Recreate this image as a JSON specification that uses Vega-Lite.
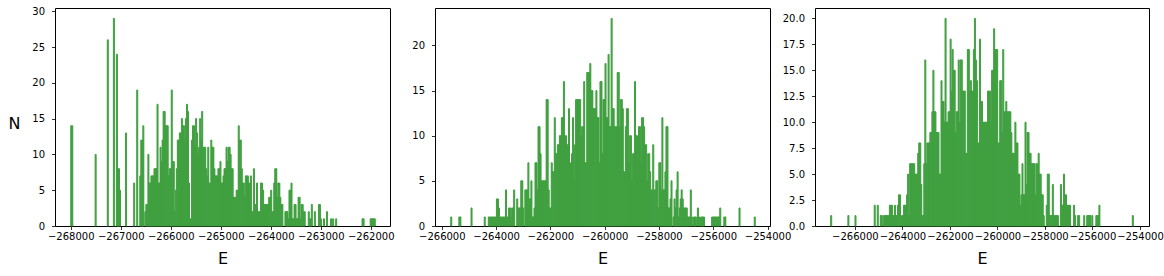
{
"$schema": "https://vega.github.io/schema/vega-lite/v6.json",
"padding": {"left": 7, "top": 5, "right": 0, "bottom": 0},
"background": "white",
"spacing": 45,
"bounds": "flush",
"config": {
  "view": {"stroke": "#000", "strokeWidth": 1},
  "font": "DejaVu Sans",
  "bar": {"color": "#40a040", "stroke": "#40a040", "strokeWidth": 1, "binSpacing": 0},
  "axis": {"labelFont": "DejaVu Sans", "labelFontSize": 10, "labelColor": "#000", "tickColor": "#000", "tickSize": 3.5, "tickWidth": 0.8, "domain": false, "grid": false, "titleFont": "DejaVu Sans", "titleFontSize": 16, "titleFontWeight": "normal", "titleColor": "#000", "labelOverlap": false, "labelFlush": false, "labelBound": false},
  "axisX": {"labelPadding": 1.6, "titleY": 37, "titleBaseline": "alphabetic"},
  "axisY": {"labelPadding": 7}
},
"hconcat": [
{
 "width": 335, "height": 218,
 "data": {"values": [
{"E":-268000,"N":14},{"E":-267980,"N":14},{"E":-267513,"N":10},{"E":-267269,"N":26},{"E":-267147,"N":29},{"E":-267087,"N":24},{"E":-267066,"N":8},{"E":-267046,"N":8},{"E":-267026,"N":5},{"E":-266904,"N":13},{"E":-266741,"N":6},{"E":-266680,"N":19},{"E":-266620,"N":7},{"E":-266599,"N":12},{"E":-266579,"N":12},{"E":-266559,"N":14},{"E":-266518,"N":2},{"E":-266498,"N":3},{"E":-266477,"N":3},{"E":-266457,"N":10},{"E":-266437,"N":6},{"E":-266417,"N":6},{"E":-266396,"N":7},{"E":-266376,"N":7},{"E":-266356,"N":7},{"E":-266335,"N":8},{"E":-266315,"N":8},{"E":-266295,"N":8},{"E":-266274,"N":17},{"E":-266254,"N":6},{"E":-266234,"N":6},{"E":-266214,"N":11},{"E":-266193,"N":9},{"E":-266173,"N":12},{"E":-266153,"N":16},{"E":-266132,"N":16},{"E":-266112,"N":14},{"E":-266092,"N":14},{"E":-266071,"N":14},{"E":-266051,"N":7},{"E":-266031,"N":8},{"E":-266011,"N":8},{"E":-265990,"N":19},{"E":-265970,"N":9},{"E":-265950,"N":9},{"E":-265929,"N":2},{"E":-265909,"N":5},{"E":-265889,"N":8},{"E":-265868,"N":12},{"E":-265848,"N":12},{"E":-265828,"N":13},{"E":-265808,"N":13},{"E":-265787,"N":15},{"E":-265767,"N":14},{"E":-265747,"N":14},{"E":-265726,"N":12},{"E":-265706,"N":15},{"E":-265686,"N":17},{"E":-265665,"N":16},{"E":-265645,"N":6},{"E":-265625,"N":1},{"E":-265605,"N":1},{"E":-265584,"N":12},{"E":-265564,"N":14},{"E":-265544,"N":14},{"E":-265523,"N":11},{"E":-265503,"N":15},{"E":-265483,"N":13},{"E":-265462,"N":10},{"E":-265442,"N":11},{"E":-265422,"N":15},{"E":-265402,"N":12},{"E":-265381,"N":16},{"E":-265361,"N":11},{"E":-265341,"N":11},{"E":-265320,"N":11},{"E":-265300,"N":8},{"E":-265280,"N":7},{"E":-265259,"N":11},{"E":-265239,"N":6},{"E":-265219,"N":6},{"E":-265199,"N":12},{"E":-265178,"N":11},{"E":-265158,"N":11},{"E":-265138,"N":8},{"E":-265117,"N":7},{"E":-265097,"N":7},{"E":-265077,"N":7},{"E":-265056,"N":8},{"E":-265036,"N":8},{"E":-265016,"N":9},{"E":-264996,"N":6},{"E":-264975,"N":6},{"E":-264955,"N":7},{"E":-264935,"N":8},{"E":-264914,"N":8},{"E":-264894,"N":11},{"E":-264874,"N":9},{"E":-264853,"N":11},{"E":-264833,"N":11},{"E":-264813,"N":10},{"E":-264793,"N":8},{"E":-264772,"N":8},{"E":-264752,"N":4},{"E":-264732,"N":4},{"E":-264711,"N":4},{"E":-264691,"N":5},{"E":-264671,"N":5},{"E":-264650,"N":14},{"E":-264630,"N":12},{"E":-264610,"N":12},{"E":-264590,"N":8},{"E":-264569,"N":6},{"E":-264549,"N":6},{"E":-264529,"N":4},{"E":-264508,"N":7},{"E":-264488,"N":7},{"E":-264468,"N":7},{"E":-264447,"N":6},{"E":-264427,"N":6},{"E":-264407,"N":7},{"E":-264387,"N":2},{"E":-264366,"N":2},{"E":-264346,"N":8},{"E":-264326,"N":3},{"E":-264305,"N":3},{"E":-264285,"N":6},{"E":-264265,"N":2},{"E":-264244,"N":2},{"E":-264224,"N":2},{"E":-264204,"N":6},{"E":-264184,"N":6},{"E":-264163,"N":5},{"E":-264143,"N":3},{"E":-264123,"N":3},{"E":-264102,"N":3},{"E":-264082,"N":3},{"E":-264062,"N":3},{"E":-264041,"N":4},{"E":-264021,"N":4},{"E":-264001,"N":5},{"E":-263981,"N":2},{"E":-263960,"N":2},{"E":-263940,"N":6},{"E":-263920,"N":8},{"E":-263899,"N":8},{"E":-263879,"N":4},{"E":-263859,"N":6},{"E":-263838,"N":6},{"E":-263818,"N":4},{"E":-263798,"N":3},{"E":-263778,"N":3},{"E":-263717,"N":2},{"E":-263696,"N":2},{"E":-263676,"N":2},{"E":-263656,"N":1},{"E":-263635,"N":5},{"E":-263615,"N":5},{"E":-263595,"N":6},{"E":-263575,"N":1},{"E":-263554,"N":1},{"E":-263534,"N":3},{"E":-263514,"N":3},{"E":-263493,"N":1},{"E":-263473,"N":1},{"E":-263453,"N":4},{"E":-263432,"N":4},{"E":-263412,"N":1},{"E":-263392,"N":3},{"E":-263372,"N":3},{"E":-263351,"N":2},{"E":-263331,"N":2},{"E":-263250,"N":2},{"E":-263229,"N":1},{"E":-263209,"N":1},{"E":-263189,"N":3},{"E":-263128,"N":2},{"E":-263047,"N":3},{"E":-263026,"N":3},{"E":-263006,"N":1},{"E":-262945,"N":1},{"E":-262884,"N":2},{"E":-262803,"N":1},{"E":-262763,"N":1},{"E":-262702,"N":1},{"E":-262174,"N":1},{"E":-262154,"N":1},{"E":-262011,"N":1},{"E":-261991,"N":1},{"E":-261971,"N":1},{"E":-261951,"N":1},{"E":-261930,"N":1}
 ]},
 "mark": {"type": "bar"},
 "encoding": {
  "x": {"field": "E", "type": "quantitative", "bin": {"extent": [-268010, -261920], "step": 20.3, "nice": false},
        "scale": {"domain": [-268315, -261615], "nice": false, "zero": false},
        "axis": {"title": "E", "format": "d", "values": [-268000, -267000, -266000, -265000, -264000, -263000, -262000]}},
  "y": {"field": "N", "type": "quantitative", "scale": {"domain": [0, 30.45], "nice": false},
        "axis": {"title": "N", "format": "d", "values": [0, 5, 10, 15, 20, 25, 30], "titleAngle": 0, "titleX": -41, "titleY": 115, "titleAlign": "center", "titleBaseline": "middle"}}
 }
},
{
 "width": 335, "height": 218,
 "data": {"values": [
{"E":-265671,"N":1},{"E":-265372,"N":1},{"E":-265335,"N":1},{"E":-264923,"N":2},{"E":-264437,"N":1},{"E":-264288,"N":1},{"E":-264250,"N":1},{"E":-264213,"N":1},{"E":-264175,"N":1},{"E":-264138,"N":1},{"E":-264101,"N":1},{"E":-264063,"N":1},{"E":-264026,"N":1},{"E":-263988,"N":3},{"E":-263951,"N":3},{"E":-263914,"N":2},{"E":-263876,"N":1},{"E":-263839,"N":1},{"E":-263801,"N":1},{"E":-263764,"N":1},{"E":-263727,"N":1},{"E":-263689,"N":1},{"E":-263652,"N":4},{"E":-263614,"N":1},{"E":-263577,"N":1},{"E":-263540,"N":2},{"E":-263502,"N":2},{"E":-263465,"N":1},{"E":-263427,"N":2},{"E":-263390,"N":2},{"E":-263353,"N":4},{"E":-263240,"N":3},{"E":-263203,"N":2},{"E":-263166,"N":2},{"E":-263128,"N":2},{"E":-263091,"N":5},{"E":-263053,"N":5},{"E":-263016,"N":2},{"E":-262941,"N":4},{"E":-262904,"N":4},{"E":-262866,"N":4},{"E":-262829,"N":7},{"E":-262792,"N":3},{"E":-262754,"N":3},{"E":-262717,"N":5},{"E":-262679,"N":1},{"E":-262642,"N":1},{"E":-262605,"N":2},{"E":-262567,"N":7},{"E":-262530,"N":7},{"E":-262492,"N":4},{"E":-262455,"N":11},{"E":-262418,"N":11},{"E":-262380,"N":8},{"E":-262343,"N":5},{"E":-262305,"N":5},{"E":-262268,"N":5},{"E":-262231,"N":5},{"E":-262193,"N":5},{"E":-262156,"N":14},{"E":-262118,"N":14},{"E":-262081,"N":4},{"E":-262044,"N":2},{"E":-262006,"N":2},{"E":-261969,"N":7},{"E":-261931,"N":6},{"E":-261894,"N":6},{"E":-261857,"N":12},{"E":-261819,"N":8},{"E":-261782,"N":8},{"E":-261744,"N":9},{"E":-261707,"N":9},{"E":-261670,"N":10},{"E":-261632,"N":10},{"E":-261595,"N":12},{"E":-261557,"N":12},{"E":-261520,"N":16},{"E":-261483,"N":10},{"E":-261445,"N":10},{"E":-261408,"N":9},{"E":-261370,"N":9},{"E":-261333,"N":13},{"E":-261296,"N":3},{"E":-261258,"N":7},{"E":-261221,"N":8},{"E":-261183,"N":12},{"E":-261146,"N":5},{"E":-261109,"N":9},{"E":-261071,"N":14},{"E":-261034,"N":14},{"E":-260996,"N":14},{"E":-260959,"N":14},{"E":-260922,"N":14},{"E":-260884,"N":10},{"E":-260847,"N":11},{"E":-260809,"N":11},{"E":-260772,"N":16},{"E":-260735,"N":7},{"E":-260697,"N":7},{"E":-260660,"N":17},{"E":-260622,"N":17},{"E":-260585,"N":17},{"E":-260548,"N":18},{"E":-260510,"N":15},{"E":-260473,"N":15},{"E":-260435,"N":13},{"E":-260398,"N":13},{"E":-260361,"N":13},{"E":-260323,"N":15},{"E":-260286,"N":12},{"E":-260248,"N":12},{"E":-260211,"N":7},{"E":-260174,"N":16},{"E":-260136,"N":16},{"E":-260099,"N":8},{"E":-260061,"N":14},{"E":-260024,"N":14},{"E":-259987,"N":18},{"E":-259949,"N":12},{"E":-259912,"N":12},{"E":-259874,"N":19},{"E":-259837,"N":11},{"E":-259800,"N":11},{"E":-259762,"N":23},{"E":-259725,"N":13},{"E":-259687,"N":13},{"E":-259650,"N":11},{"E":-259613,"N":11},{"E":-259575,"N":11},{"E":-259538,"N":17},{"E":-259500,"N":17},{"E":-259463,"N":11},{"E":-259426,"N":14},{"E":-259388,"N":14},{"E":-259351,"N":13},{"E":-259313,"N":6},{"E":-259276,"N":6},{"E":-259239,"N":11},{"E":-259201,"N":13},{"E":-259164,"N":13},{"E":-259126,"N":7},{"E":-259089,"N":10},{"E":-259052,"N":10},{"E":-259014,"N":5},{"E":-258977,"N":8},{"E":-258939,"N":8},{"E":-258902,"N":16},{"E":-258865,"N":10},{"E":-258827,"N":10},{"E":-258790,"N":7},{"E":-258752,"N":11},{"E":-258715,"N":11},{"E":-258678,"N":7},{"E":-258640,"N":12},{"E":-258603,"N":12},{"E":-258565,"N":11},{"E":-258528,"N":9},{"E":-258491,"N":9},{"E":-258453,"N":5},{"E":-258416,"N":8},{"E":-258378,"N":8},{"E":-258341,"N":6},{"E":-258304,"N":4},{"E":-258266,"N":4},{"E":-258229,"N":9},{"E":-258191,"N":4},{"E":-258154,"N":4},{"E":-258117,"N":5},{"E":-258079,"N":5},{"E":-258042,"N":2},{"E":-258004,"N":7},{"E":-257967,"N":7},{"E":-257930,"N":4},{"E":-257892,"N":12},{"E":-257855,"N":4},{"E":-257817,"N":4},{"E":-257780,"N":6},{"E":-257743,"N":11},{"E":-257705,"N":11},{"E":-257668,"N":2},{"E":-257630,"N":2},{"E":-257593,"N":3},{"E":-257556,"N":5},{"E":-257481,"N":1},{"E":-257443,"N":3},{"E":-257406,"N":2},{"E":-257369,"N":4},{"E":-257331,"N":6},{"E":-257294,"N":1},{"E":-257256,"N":2},{"E":-257219,"N":3},{"E":-257182,"N":4},{"E":-257144,"N":3},{"E":-257107,"N":2},{"E":-257069,"N":2},{"E":-257032,"N":2},{"E":-256995,"N":2},{"E":-256957,"N":1},{"E":-256920,"N":1},{"E":-256882,"N":1},{"E":-256845,"N":4},{"E":-256808,"N":1},{"E":-256733,"N":1},{"E":-256695,"N":1},{"E":-256658,"N":1},{"E":-256583,"N":2},{"E":-256546,"N":1},{"E":-256471,"N":1},{"E":-256434,"N":1},{"E":-256396,"N":1},{"E":-256359,"N":1},{"E":-256060,"N":1},{"E":-256022,"N":1},{"E":-255985,"N":1},{"E":-255947,"N":1},{"E":-255910,"N":1},{"E":-255873,"N":1},{"E":-255835,"N":1},{"E":-255798,"N":1},{"E":-255760,"N":2},{"E":-255611,"N":1},{"E":-255573,"N":1},{"E":-255050,"N":2},{"E":-254489,"N":1}
 ]},
 "mark": {"type": "bar"},
 "encoding": {
  "x": {"field": "E", "type": "quantitative", "bin": {"extent": [-265690, -254470], "step": 37.4, "nice": false},
        "scale": {"domain": [-266251, -253909], "nice": false, "zero": false},
        "axis": {"title": "E", "format": "d", "values": [-266000, -264000, -262000, -260000, -258000, -256000, -254000]}},
  "y": {"field": "N", "type": "quantitative", "scale": {"domain": [0, 24.15], "nice": false},
        "axis": {"title": null, "format": "d", "values": [0, 5, 10, 15, 20]}}
 }
},
{
 "width": 334, "height": 218,
 "data": {"values": [
{"E":-267019,"N":1},{"E":-266295,"N":1},{"E":-265996,"N":1},{"E":-265187,"N":2},{"E":-265059,"N":2},{"E":-264931,"N":1},{"E":-264889,"N":1},{"E":-264803,"N":1},{"E":-264761,"N":1},{"E":-264718,"N":1},{"E":-264676,"N":1},{"E":-264633,"N":1},{"E":-264590,"N":1},{"E":-264548,"N":2},{"E":-264505,"N":2},{"E":-264463,"N":2},{"E":-264420,"N":1},{"E":-264377,"N":1},{"E":-264335,"N":2},{"E":-264292,"N":1},{"E":-264250,"N":1},{"E":-264207,"N":2},{"E":-264164,"N":3},{"E":-264122,"N":3},{"E":-264037,"N":1},{"E":-263994,"N":1},{"E":-263951,"N":2},{"E":-263909,"N":2},{"E":-263866,"N":2},{"E":-263824,"N":3},{"E":-263781,"N":5},{"E":-263738,"N":1},{"E":-263696,"N":6},{"E":-263653,"N":6},{"E":-263611,"N":6},{"E":-263568,"N":6},{"E":-263525,"N":6},{"E":-263483,"N":5},{"E":-263440,"N":5},{"E":-263398,"N":5},{"E":-263355,"N":7},{"E":-263312,"N":8},{"E":-263270,"N":8},{"E":-263227,"N":4},{"E":-263185,"N":1},{"E":-263142,"N":1},{"E":-263099,"N":6},{"E":-263057,"N":16},{"E":-263014,"N":6},{"E":-262972,"N":8},{"E":-262929,"N":8},{"E":-262886,"N":8},{"E":-262844,"N":9},{"E":-262801,"N":9},{"E":-262759,"N":11},{"E":-262716,"N":15},{"E":-262673,"N":11},{"E":-262631,"N":11},{"E":-262588,"N":9},{"E":-262546,"N":9},{"E":-262503,"N":9},{"E":-262460,"N":5},{"E":-262418,"N":5},{"E":-262375,"N":14},{"E":-262333,"N":12},{"E":-262290,"N":12},{"E":-262247,"N":10},{"E":-262205,"N":20},{"E":-262162,"N":10},{"E":-262120,"N":10},{"E":-262077,"N":11},{"E":-262034,"N":11},{"E":-261992,"N":18},{"E":-261949,"N":13},{"E":-261907,"N":17},{"E":-261864,"N":15},{"E":-261821,"N":15},{"E":-261779,"N":9},{"E":-261736,"N":11},{"E":-261694,"N":11},{"E":-261651,"N":16},{"E":-261608,"N":10},{"E":-261566,"N":16},{"E":-261523,"N":16},{"E":-261481,"N":13},{"E":-261438,"N":13},{"E":-261395,"N":13},{"E":-261353,"N":7},{"E":-261310,"N":7},{"E":-261268,"N":17},{"E":-261225,"N":17},{"E":-261182,"N":13},{"E":-261140,"N":14},{"E":-261097,"N":13},{"E":-261055,"N":13},{"E":-261012,"N":17},{"E":-260969,"N":20},{"E":-260927,"N":16},{"E":-260884,"N":14},{"E":-260842,"N":8},{"E":-260799,"N":8},{"E":-260756,"N":18},{"E":-260714,"N":12},{"E":-260671,"N":12},{"E":-260629,"N":10},{"E":-260586,"N":10},{"E":-260543,"N":10},{"E":-260501,"N":10},{"E":-260458,"N":10},{"E":-260416,"N":13},{"E":-260373,"N":13},{"E":-260330,"N":13},{"E":-260288,"N":10},{"E":-260245,"N":15},{"E":-260203,"N":15},{"E":-260160,"N":19},{"E":-260117,"N":17},{"E":-260075,"N":17},{"E":-260032,"N":17},{"E":-259990,"N":8},{"E":-259947,"N":8},{"E":-259904,"N":14},{"E":-259862,"N":14},{"E":-259819,"N":9},{"E":-259777,"N":17},{"E":-259734,"N":11},{"E":-259691,"N":11},{"E":-259649,"N":12},{"E":-259606,"N":11},{"E":-259564,"N":11},{"E":-259521,"N":11},{"E":-259478,"N":11},{"E":-259436,"N":9},{"E":-259393,"N":7},{"E":-259351,"N":7},{"E":-259308,"N":7},{"E":-259265,"N":10},{"E":-259223,"N":8},{"E":-259180,"N":8},{"E":-259138,"N":5},{"E":-259095,"N":5},{"E":-259052,"N":2},{"E":-259010,"N":3},{"E":-258967,"N":6},{"E":-258925,"N":3},{"E":-258882,"N":3},{"E":-258839,"N":10},{"E":-258797,"N":4},{"E":-258754,"N":9},{"E":-258712,"N":9},{"E":-258669,"N":7},{"E":-258626,"N":7},{"E":-258584,"N":6},{"E":-258541,"N":6},{"E":-258499,"N":6},{"E":-258456,"N":6},{"E":-258413,"N":3},{"E":-258371,"N":6},{"E":-258328,"N":6},{"E":-258286,"N":7},{"E":-258243,"N":5},{"E":-258200,"N":5},{"E":-258158,"N":3},{"E":-258115,"N":3},{"E":-258073,"N":1},{"E":-257945,"N":2},{"E":-257902,"N":5},{"E":-257860,"N":5},{"E":-257817,"N":1},{"E":-257774,"N":1},{"E":-257732,"N":1},{"E":-257689,"N":4},{"E":-257647,"N":1},{"E":-257604,"N":1},{"E":-257561,"N":1},{"E":-257519,"N":1},{"E":-257476,"N":1},{"E":-257348,"N":4},{"E":-257306,"N":2},{"E":-257263,"N":2},{"E":-257221,"N":5},{"E":-257178,"N":3},{"E":-257135,"N":3},{"E":-257093,"N":2},{"E":-257050,"N":2},{"E":-257008,"N":2},{"E":-256965,"N":2},{"E":-256795,"N":2},{"E":-256752,"N":1},{"E":-256624,"N":1},{"E":-256582,"N":1},{"E":-256369,"N":1},{"E":-256241,"N":1},{"E":-256198,"N":1},{"E":-256156,"N":1},{"E":-256113,"N":1},{"E":-256028,"N":1},{"E":-255857,"N":1},{"E":-255815,"N":1},{"E":-255772,"N":1},{"E":-255730,"N":2},{"E":-254281,"N":1}
 ]},
 "mark": {"type": "bar"},
 "encoding": {
  "x": {"field": "E", "type": "quantitative", "bin": {"extent": [-267040, -254260], "step": 42.6, "nice": false},
        "scale": {"domain": [-267679, -253621], "nice": false, "zero": false},
        "axis": {"title": "E", "format": "d", "values": [-266000, -264000, -262000, -260000, -258000, -256000, -254000]}},
  "y": {"field": "N", "type": "quantitative", "scale": {"domain": [0, 21], "nice": false},
        "axis": {"title": null, "format": ".1f", "values": [0, 2.5, 5, 7.5, 10, 12.5, 15, 17.5, 20]}}
 }
}
]
}
